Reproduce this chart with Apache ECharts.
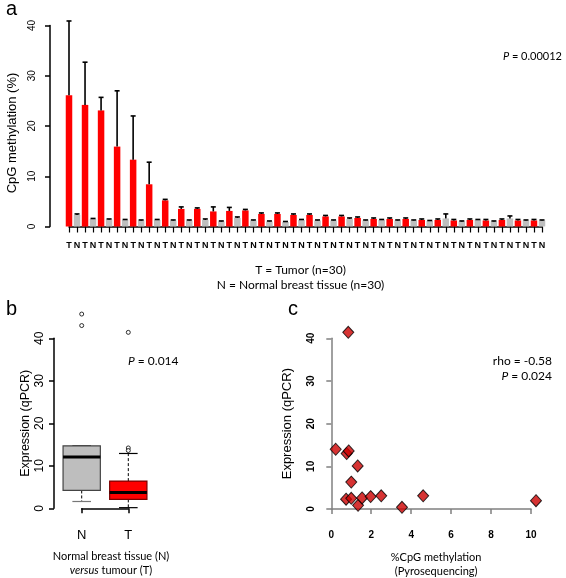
<!DOCTYPE html>
<html><head><meta charset="utf-8">
<script src="https://cdn.jsdelivr.net/npm/echarts@6/dist/echarts.min.js"></script>
<style>html,body{margin:0;padding:0;background:#fff}#c{width:566px;height:578px}</style>
</head><body><div id="c"></div>
<script>
// ---- Panel a data ----
const sampleTypes = ['T', 'N'];
const tumorMean  = [26.1, 24.2, 23.1, 15.9, 13.3, 8.4, 5.2, 3.5, 3.5, 3.0, 3.1, 3.2, 2.5, 2.5, 2.3, 2.3, 2.0, 2.0, 1.7, 1.5, 1.5, 1.5, 1.3, 1.3, 1.2, 1.3, 1.2, 1.3, 1.2, 1.2];
const tumorTop   = [40.9, 32.7, 25.7, 27.0, 22.0, 12.8, 5.4, 3.9, 3.7, 3.9, 3.8, 3.4, 2.7, 2.7, 2.5, 2.5, 2.2, 2.2, 1.9, 1.7, 1.7, 1.7, 1.5, 1.5, 1.4, 1.5, 1.4, 1.5, 1.4, 1.4];
const normalMean = [2.3, 1.5, 1.4, 1.3, 1.2, 1.3, 1.2, 1.2, 1.3, 1.0, 1.7, 1.2, 1.0, 0.9, 1.3, 1.2, 1.2, 1.5, 1.2, 1.3, 1.2, 1.2, 1.1, 1.6, 1.0, 1.3, 1.0, 1.6, 1.2, 1.2];
const normalTop  = [2.5, 1.6, 1.5, 1.4, 1.3, 1.4, 1.3, 1.3, 1.5, 1.1, 1.9, 1.3, 1.1, 1.0, 1.4, 1.3, 1.3, 1.7, 1.3, 1.4, 1.3, 1.3, 1.2, 2.5, 1.1, 1.4, 1.1, 2.1, 1.3, 1.3];
const yTicksA = [0, 10, 20, 30, 40];

// ---- Panel b data ----
const boxGroups = ['N', 'T'];
// [min whisker, Q1, median, Q3, max whisker]
const boxStats = [
  [1.6, 4.2, 12.1, 14.7, 14.7],
  [0.15, 2.1, 3.7, 6.4, 12.9]
];
const outliersN = [45.7, 43.0];
const outliersT = [41.4, 14.2, 13.6];

// ---- Panel c data ----
const methylation = [0.85, 0.22, 0.77, 0.87, 1.32, 1.0, 0.74, 1.0, 1.34, 1.54, 1.97, 2.5, 3.54, 4.6, 10.25];
const expression  = [41.4, 14.0, 13.0, 13.6, 10.1, 6.3, 2.3, 2.5, 0.85, 2.6, 2.9, 3.1, 0.4, 3.1, 1.95];

// ---- build ----
const nPairs = tumorMean.length;
const tumorData = tumorMean.map((v, i) => [2 * i + 1, v]);
const normalData = normalMean.map((v, i) => [2 * i + 2, v]);
const errData = [];
tumorMean.forEach((v, i) => errData.push([2 * i + 1, v, tumorTop[i]]));
normalMean.forEach((v, i) => errData.push([2 * i + 2, v, normalTop[i]]));

const boxData = boxStats.map((s, i) => [i + 1].concat(s));
const outData = outliersN.map(v => [1, v]).concat(outliersT.map(v => [2, v]));
const scatterData = methylation.map((x, i) => [x, expression[i]]);

const F = '"Liberation Sans", Arial, sans-serif';
const FA = 'Lato, "Open Sans", sans-serif';
const boxColors = ['#BEBEBE', '#FF0000'];

function errRender(params, api) {
  const x = api.value(0), m = api.value(1), t = api.value(2);
  const p0 = api.coord([x, m]), p1 = api.coord([x, t]);
  const cw = 2.5;
  return { type: 'group', children: [
    { type: 'line', shape: { x1: p0[0], y1: p0[1], x2: p1[0], y2: p1[1] }, style: { stroke: '#000', lineWidth: 1.6 } },
    { type: 'line', shape: { x1: p1[0] - cw, y1: p1[1], x2: p1[0] + cw, y2: p1[1] }, style: { stroke: '#000', lineWidth: 1.6 } }
  ] };
}

function boxRender(params, api) {
  const x = api.value(0);
  const mn = api.value(1), q1 = api.value(2), md = api.value(3), q3 = api.value(4), mx = api.value(5);
  const bw = api.size([0.8, 0])[0];
  const sw = bw / 2;
  const c = v => api.coord([x, v]);
  const pMin = c(mn), pQ1 = c(q1), pMd = c(md), pQ3 = c(q3), pMax = c(mx);
  const cx = pMd[0];
  const border = params.dataIndex === 0 ? '#444' : '#7a0000';
  return { type: 'group', children: [
    { type: 'line', shape: { x1: cx, y1: pQ1[1], x2: cx, y2: pMin[1] }, style: { stroke: '#000', lineWidth: 1, lineDash: [3, 2] } },
    { type: 'line', shape: { x1: cx, y1: pQ3[1], x2: cx, y2: pMax[1] }, style: { stroke: '#000', lineWidth: 1, lineDash: [3, 2] } },
    { type: 'line', shape: { x1: cx - sw / 2, y1: pMin[1], x2: cx + sw / 2, y2: pMin[1] }, style: { stroke: params.dataIndex === 0 ? '#777' : '#000', lineWidth: 1.2 } },
    { type: 'line', shape: { x1: cx - sw / 2, y1: pMax[1], x2: cx + sw / 2, y2: pMax[1] }, style: { stroke: '#000', lineWidth: 1.2 } },
    { type: 'rect', shape: { x: cx - bw / 2, y: pQ3[1], width: bw, height: pQ1[1] - pQ3[1] }, style: { fill: boxColors[params.dataIndex], stroke: border, lineWidth: 1.2 } },
    { type: 'line', shape: { x1: cx - bw / 2, y1: pMd[1], x2: cx + bw / 2, y2: pMd[1] }, style: { stroke: '#000', lineWidth: 3 } }
  ] };
}

const chart = echarts.init(document.getElementById('c'), null, { renderer: 'canvas' });
chart.setOption({
  animation: false,
  backgroundColor: '#fff',
  title: [
    { text: 'a', left: 1, top: -6, textStyle: { fontFamily: F, fontSize: 20, fontWeight: 'normal', color: '#000' } },
    { text: 'b', left: 1, top: 294, textStyle: { fontFamily: F, fontSize: 20, fontWeight: 'normal', color: '#000' } },
    { text: 'c', left: 283, top: 294, textStyle: { fontFamily: F, fontSize: 20, fontWeight: 'normal', color: '#000' } }
  ],
  graphic: [
    { type: 'text', right: 4, top: 51, style: { text: '{i|P} = 0.00012', fontFamily: FA, fontSize: 11, fill: '#000', rich: { i: { fontStyle: 'italic', fontFamily: FA, fontSize: 11 } } } },
    { type: 'text', left: 128, top: 355, style: { text: '{i|P} = 0.014', fontFamily: FA, fontSize: 12, fill: '#000', rich: { i: { fontStyle: 'italic', fontFamily: FA, fontSize: 12 } } } },
    { type: 'text', right: 14, top: 355, style: { text: 'rho = -0.58', fontFamily: FA, fontSize: 12, fill: '#000', align: 'right' } },
    { type: 'text', right: 14, top: 370, style: { text: '{i|P} = 0.024', fontFamily: FA, fontSize: 12, fill: '#000', align: 'right', rich: { i: { fontStyle: 'italic', fontFamily: FA, fontSize: 12 } } } }
  ],
  grid: [
    { left: 69, right: 24, top: 25.5, bottom: 351.5, outerBoundsMode: 'none', containLabel: false },
    { left: 81.7, right: 437.7, top: 338.3, bottom: 69.7, outerBoundsMode: 'none', containLabel: false },
    { left: 331.3, right: 35, top: 338.3, bottom: 69, outerBoundsMode: 'none', containLabel: false }
  ],
  xAxis: [
    { gridIndex: 0, type: 'value', min: 1, max: 2 * nPairs, interval: 1, offset: 6.5,
      axisLine: { show: true, lineStyle: { color: '#000', width: 1.5 } },
      axisTick: { show: true, length: 6, lineStyle: { color: '#000', width: 1.2 } },
      axisLabel: { fontFamily: F, fontSize: 9, fontWeight: 'bold', color: '#000', margin: 8, formatter: v => sampleTypes[(v - 1) % 2] },
      splitLine: { show: false },
      name: 'T = Tumor (n=30)\nN = Normal breast tissue (n=30)', nameLocation: 'middle', nameGap: 30,
      nameTextStyle: { fontFamily: FA, fontSize: 12, color: '#000', lineHeight: 15, padding: [0, 10, 0, 0] } },
    { gridIndex: 1, type: 'value', min: 1, max: 2, interval: 1, offset: 7.5,
      axisLine: { show: true, lineStyle: { color: '#000', width: 1.5 } },
      axisTick: { show: true, length: 5, lineStyle: { color: '#000', width: 1.5 } },
      axisLabel: { fontFamily: F, fontSize: 13, color: '#000', margin: 13, formatter: v => boxGroups[v - 1] },
      splitLine: { show: false },
      name: 'Normal breast tissue (N)\n{i|versus} tumour (T)', nameLocation: 'middle', nameGap: 34,
      nameTextStyle: { fontFamily: FA, fontSize: 11, color: '#000', lineHeight: 14, padding: [0, 0, 0, 12], rich: { i: { fontStyle: 'italic', fontFamily: FA, fontSize: 11 } } } },
    { gridIndex: 2, type: 'value', min: 0, max: 10, interval: 2, offset: 7,
      axisLine: { show: true, lineStyle: { color: '#808080', width: 1.5 } },
      axisTick: { show: true, length: 5, lineStyle: { color: '#808080', width: 1.5 } },
      axisLabel: { fontFamily: F, fontSize: 10, fontWeight: 'bold', color: '#000', margin: 14 },
      splitLine: { show: false },
      name: '%CpG methylation\n(Pyrosequencing)', nameLocation: 'middle', nameGap: 34,
      nameTextStyle: { fontFamily: FA, fontSize: 11, color: '#000', lineHeight: 14, padding: [0, 0, 0, 10] } }
  ],
  yAxis: [
    { gridIndex: 0, type: 'value', min: yTicksA[0], max: yTicksA[yTicksA.length - 1], interval: 10, offset: 19,
      axisLine: { show: true, lineStyle: { color: '#000', width: 1.5 } },
      axisTick: { show: true, length: 5, lineStyle: { color: '#000', width: 1.5 } },
      axisLabel: { fontFamily: F, fontSize: 10, color: '#000', rotate: 90, margin: 13 },
      splitLine: { show: false },
      name: 'CpG methylation (%)', nameLocation: 'middle', nameGap: 31,
      nameTextStyle: { fontFamily: F, fontSize: 13, color: '#000', padding: [0, 14, 0, 0] } },
    { gridIndex: 1, type: 'value', min: 0, max: 40, interval: 10, offset: 27.7,
      axisLine: { show: true, lineStyle: { color: '#000', width: 1.5 } },
      axisTick: { show: true, length: 5, lineStyle: { color: '#000', width: 1.5 } },
      axisLabel: { fontFamily: F, fontSize: 12, color: '#000', rotate: 90, margin: 8 },
      splitLine: { show: false },
      name: 'Expression (qPCR)', nameLocation: 'middle', nameGap: 22,
      nameTextStyle: { fontFamily: F, fontSize: 12.5, color: '#000' } },
    { gridIndex: 2, type: 'value', min: 0, max: 40, interval: 10, offset: 4,
      axisLine: { show: true, lineStyle: { color: '#808080', width: 1.5 } },
      axisTick: { show: true, length: 5, lineStyle: { color: '#808080', width: 1.5 } },
      axisLabel: { fontFamily: F, fontSize: 10, fontWeight: 'bold', color: '#000', rotate: 90, margin: 11 },
      splitLine: { show: false },
      name: 'Expression (qPCR)', nameLocation: 'middle', nameGap: 33,
      nameTextStyle: { fontFamily: F, fontSize: 13, color: '#000' } }
  ],
  series: [
    { type: 'bar', xAxisIndex: 0, yAxisIndex: 0, data: tumorData, barWidth: 6.5, barGap: '-100%', clip: false,
      itemStyle: { color: '#FF0000' } },
    { type: 'bar', xAxisIndex: 0, yAxisIndex: 0, data: normalData, barWidth: 6.5, barGap: '-100%', clip: false,
      itemStyle: { color: '#BEBEBE' } },
    { type: 'custom', xAxisIndex: 0, yAxisIndex: 0, data: errData, renderItem: errRender, clip: false, z: 5,
      encode: { x: 0, y: [1, 2] } },
    { type: 'custom', xAxisIndex: 1, yAxisIndex: 1, data: boxData, renderItem: boxRender, clip: false,
      encode: { x: 0, y: [1, 2, 3, 4, 5] } },
    { type: 'scatter', xAxisIndex: 1, yAxisIndex: 1, data: outData, symbol: 'circle', symbolSize: 4, clip: false,
      itemStyle: { color: '#fff', borderColor: '#000', borderWidth: 1 } },
    { type: 'scatter', xAxisIndex: 2, yAxisIndex: 2, data: scatterData, symbol: 'diamond', symbolSize: [11, 12], clip: false,
      itemStyle: { color: '#CC0000', borderColor: '#000', borderWidth: 1 } }
  ]
});
</script>
</body></html>
